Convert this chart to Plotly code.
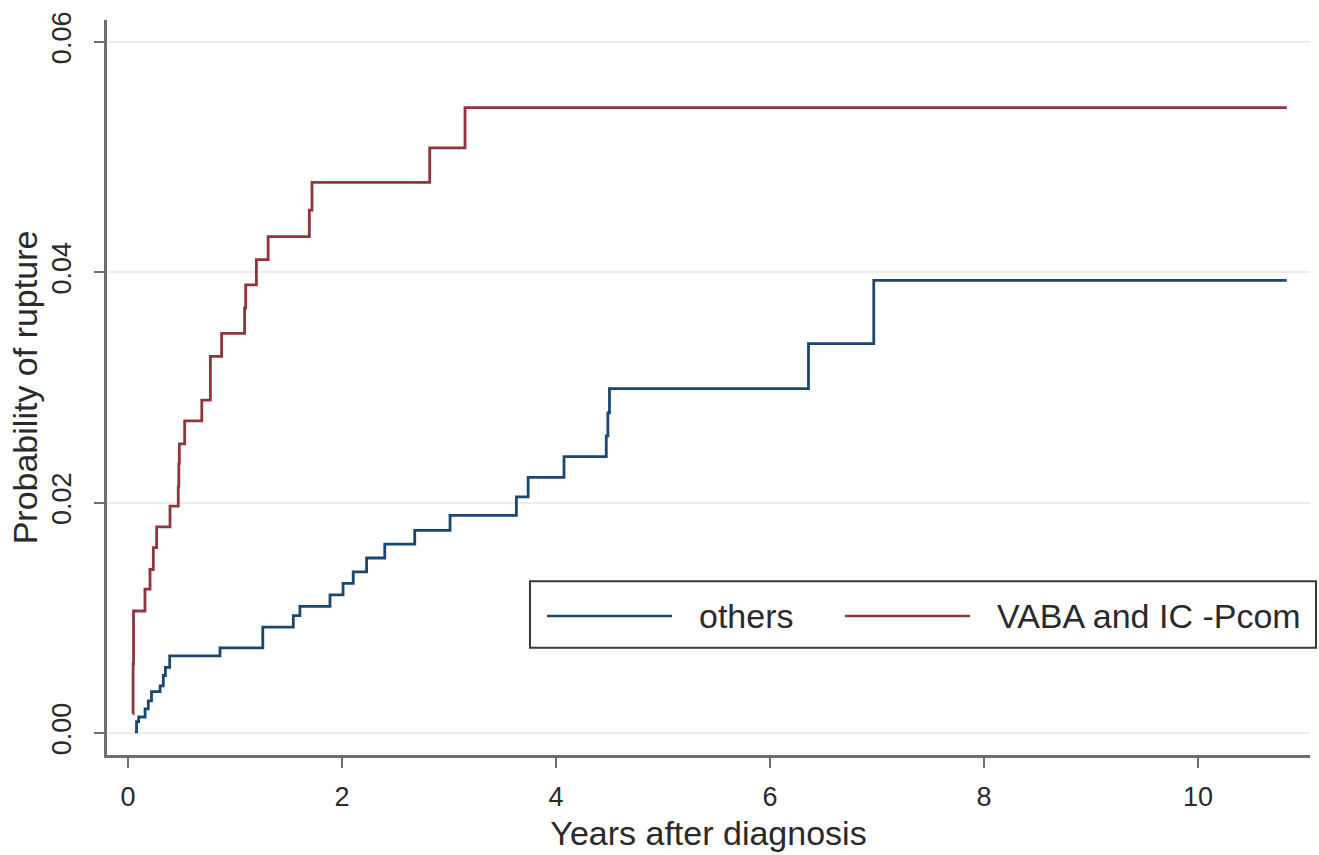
import plotly.graph_objects as go

# Kaplan-Meier style cumulative probability of rupture (step functions)
others_years = [0.065, 0.08, 0.10, 0.16, 0.19, 0.22, 0.30, 0.33, 0.35, 0.39,
                0.86, 1.26, 1.545, 1.607, 1.888, 2.01, 2.105, 2.23, 2.40, 2.68,
                3.01, 3.63, 3.74, 4.075, 4.47, 4.485, 4.50, 6.36, 6.97, 10.83]
others_prob = [0.0001, 0.0010, 0.0014, 0.0021, 0.0028, 0.0036, 0.0041, 0.0050, 0.0057, 0.0067,
               0.0074, 0.0092, 0.0102, 0.0110, 0.0120, 0.0130, 0.0140, 0.0152, 0.0164, 0.0176,
               0.0189, 0.0205, 0.0222, 0.0240, 0.0258, 0.0278, 0.0299, 0.0338, 0.0393, 0.0393]

vaba_years = [0.044, 0.048, 0.052, 0.159, 0.206, 0.237, 0.268, 0.393, 0.47, 0.475,
              0.48, 0.53, 0.69, 0.77, 0.875, 1.09, 1.10, 1.20, 1.31, 1.695,
              1.72, 2.82, 3.15, 10.83]
vaba_prob = [0.0017, 0.0060, 0.0106, 0.0125, 0.0142, 0.0161, 0.0179, 0.0197, 0.0214, 0.0234,
             0.0251, 0.0271, 0.0289, 0.0327, 0.0347, 0.0369, 0.0389, 0.0411, 0.0431, 0.0454,
             0.0478, 0.0508, 0.0543, 0.0543]

series_names = ["others", "VABA and IC -Pcom"]
series_colors = ["#1a476f", "#90353b"]

x_ticks = [0, 2, 4, 6, 8, 10]
y_ticks = [0.00, 0.02, 0.04, 0.06]
y_tick_text = ["0.00", "0.02", "0.04", "0.06"]

FONT = "Liberation Sans, Arial, sans-serif"
TEXT = "#2a2a2a"
AXIS = "#6e6e6e"

fig = go.Figure()
for xs, ys, name, color in [(others_years, others_prob, series_names[0], series_colors[0]),
                            (vaba_years, vaba_prob, series_names[1], series_colors[1])]:
    fig.add_trace(go.Scatter(x=xs, y=ys, mode="lines", name=name,
                             line=dict(color=color, width=2.8, shape="hv"),
                             showlegend=False))

fig.update_layout(
    width=1319, height=855,
    margin=dict(l=107, r=9, t=20, b=95),
    paper_bgcolor="white", plot_bgcolor="white",
    font=dict(family=FONT, color=TEXT, size=26),
)
fig.update_xaxes(
    range=[-0.196, 11.047], tickvals=x_ticks, ticktext=[str(v) for v in x_ticks],
    showgrid=False, zeroline=False,
    showline=True, linecolor=AXIS, linewidth=3,
    ticks="outside", ticklen=10, tickwidth=2, tickcolor=AXIS,
    tickfont=dict(size=27, color=TEXT), ticklabelstandoff=6,
    title=dict(text="Years after diagnosis", font=dict(size=34, color=TEXT), standoff=10),
)
fig.update_yaxes(
    range=[-0.0019, 0.0619], tickvals=y_ticks, ticktext=y_tick_text,
    showgrid=True, gridcolor="#ececec", gridwidth=2, zeroline=False,
    showline=True, linecolor=AXIS, linewidth=3,
    ticks="outside", ticklen=10, tickwidth=2, tickcolor=AXIS,
    tickangle=-90, tickfont=dict(size=27, color=TEXT), ticklabelstandoff=12,
    title=dict(text="Probability of rupture", font=dict(size=34, color=TEXT), standoff=0),
)

# Legend box drawn in paper coordinates with long line samples
fig.add_shape(type="rect", xref="paper", yref="paper",
              x0=0.3516, x1=1.005, y0=0.146, y1=0.2365,
              line=dict(color="#3a3a3a", width=2), fillcolor="white", layer="above")
legend_items = [(0.3658, 0.4697, 0.4904), (0.6135, 0.7174, 0.7382)]
for (lx0, lx1, tx), name, color in zip(legend_items, series_names, series_colors):
    fig.add_shape(type="line", xref="paper", yref="paper",
                  x0=lx0, x1=lx1, y0=0.1892, y1=0.1892,
                  line=dict(color=color, width=2.6), layer="above")
    fig.add_annotation(xref="paper", yref="paper", x=tx, y=0.1892,
                       text=name, showarrow=False, xanchor="left", yanchor="middle",
                       font=dict(size=34, color=TEXT, family=FONT))

fig.write_html("out.html")
